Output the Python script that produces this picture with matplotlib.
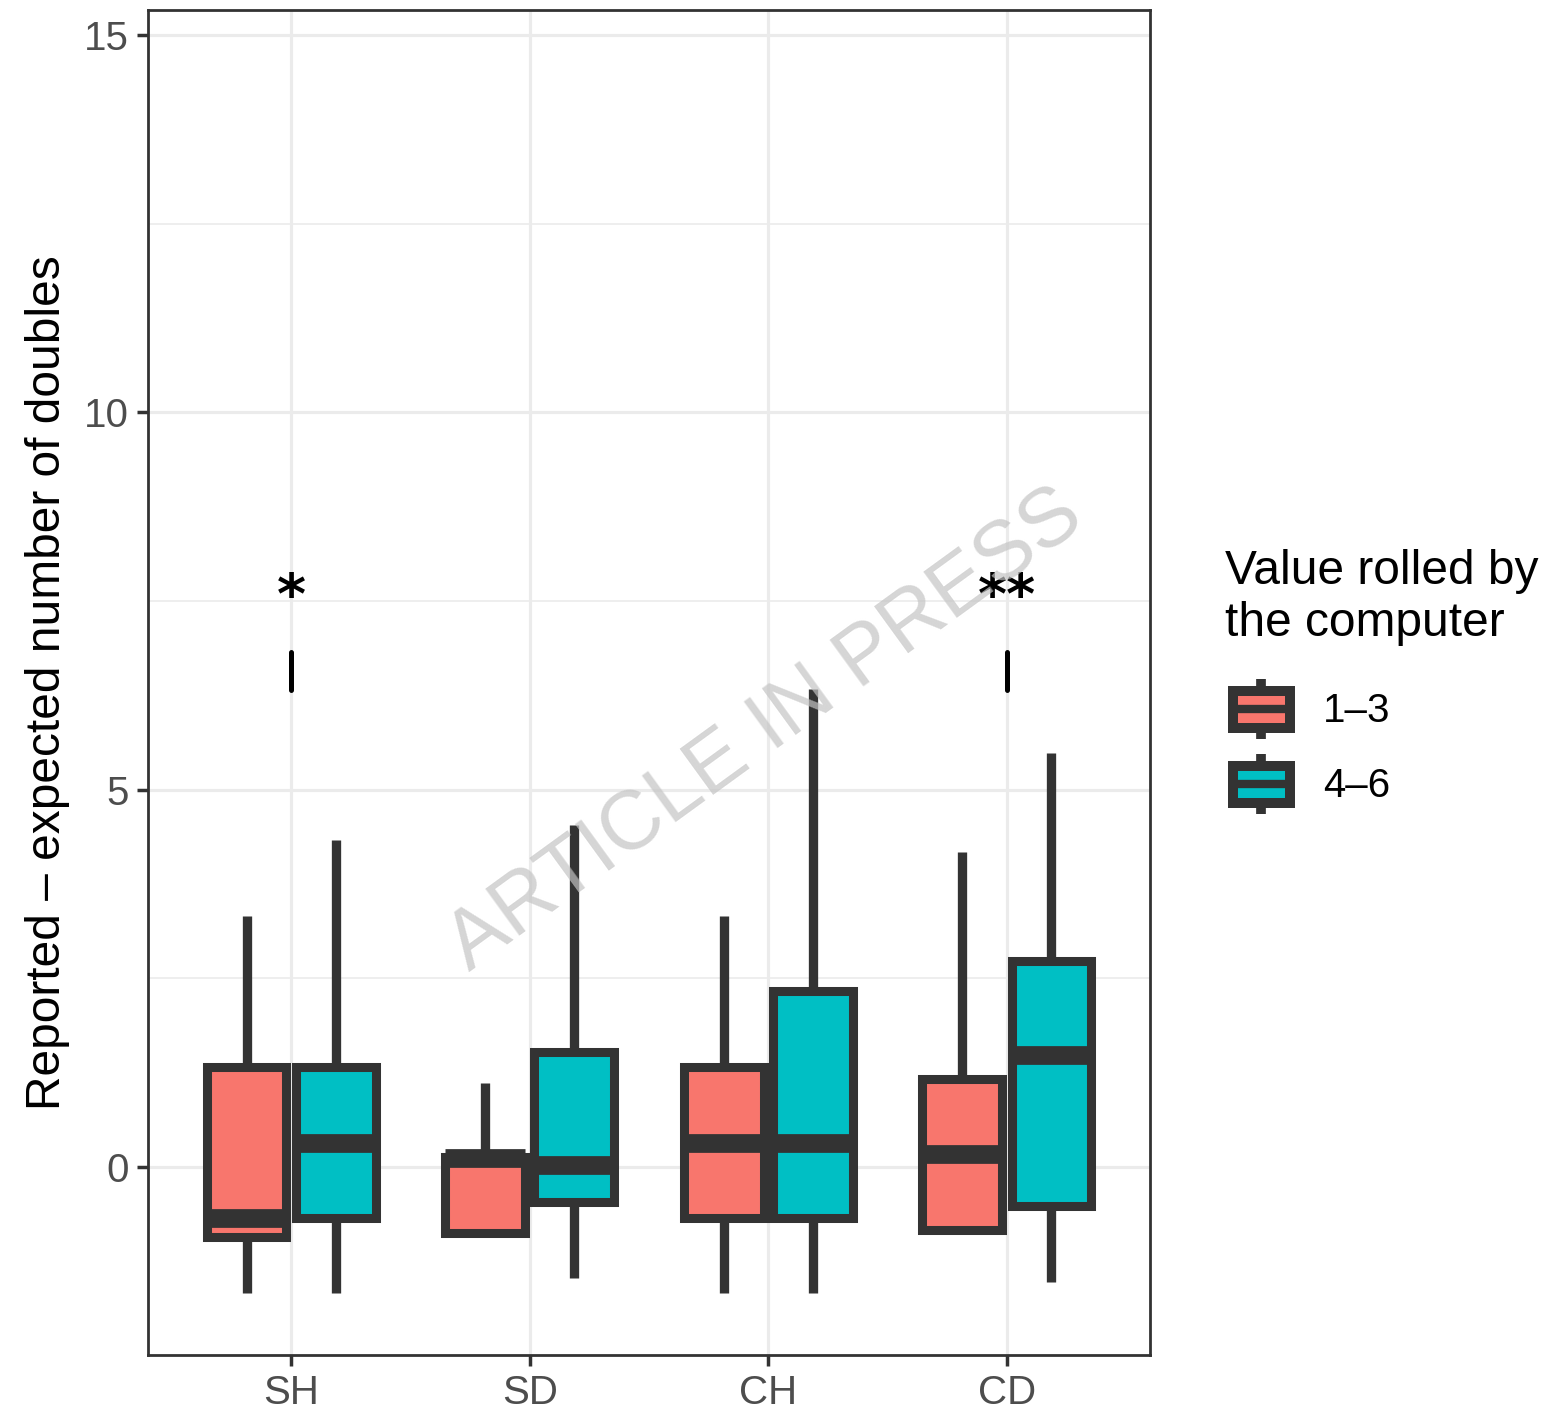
import matplotlib
matplotlib.use("Agg")
import matplotlib.pyplot as plt
from matplotlib.patches import Rectangle
from matplotlib.lines import Line2D
from matplotlib.legend_handler import HandlerBase

plt.rcParams['font.family'] = ['Liberation Sans', 'DejaVu Sans']

# ---- data -------------------------------------------------------------
categories = ["SH", "SD", "CH", "CD"]
groups = ["1–3", "4–6"]
group_colors = ["#F8766D", "#00BFC4"]

# box summaries for value 1–3
low_whishi = [3.33, 1.12, 3.33, 4.18]
low_q3 = [1.33, 0.13, 1.33, 1.17]
low_med = [-0.68, 0.12, 0.32, 0.17]
low_q1 = [-0.93, -0.88, -0.675, -0.83]
low_whislo = [-1.67, -0.88, -1.67, -0.83]

# box summaries for value 4–6
high_whishi = [4.33, 4.53, 6.33, 5.48]
high_q3 = [1.33, 1.53, 2.33, 2.73]
high_med = [0.32, 0.03, 0.32, 1.48]
high_q1 = [-0.675, -0.46, -0.675, -0.52]
high_whislo = [-1.67, -1.47, -1.67, -1.52]

# significance markers
sig_categories = ["SH", "CD"]
sig_labels = ["*", "**"]

yticks = [0, 5, 10, 15]
ylabel = "Reported \u2013 expected number of doubles"
legend_title = "Value rolled by\nthe computer"

# ---- styling ----------------------------------------------------------
EDGE = "#333333"
GRID = "#EBEBEB"
dodge = 0.187
box_w = 0.335

fig = plt.figure(figsize=(15.58, 14.13), dpi=100)
ax = fig.add_axes([148 / 1558, 1 - 1355 / 1413, (1150 - 148) / 1558, (1355 - 10) / 1413])

series = [
    (low_whislo, low_q1, low_med, low_q3, low_whishi),
    (high_whislo, high_q1, high_med, high_q3, high_whishi),
]

for gi, (wlo, q1, med, q3, whi) in enumerate(series):
    stats = []
    for i in range(len(categories)):
        stats.append(dict(whislo=wlo[i], q1=q1[i], med=med[i], q3=q3[i],
                          whishi=whi[i], fliers=[]))
    positions = [i + 1 + (dodge if gi else -dodge) for i in range(len(categories))]
    ax.bxp(stats, positions=positions, widths=box_w, patch_artist=True,
           showcaps=False, showfliers=False, manage_ticks=False,
           boxprops=dict(facecolor=group_colors[gi], edgecolor=EDGE, linewidth=6.5,
                         joinstyle="miter"),
           medianprops=dict(color=EDGE, linewidth=13.5, solid_capstyle="butt"),
           whiskerprops=dict(color=EDGE, linewidth=6.7, solid_capstyle="butt"))

# significance annotations
for cat, lab in zip(sig_categories, sig_labels):
    x = categories.index(cat) + 1
    ax.plot([x, x], [6.32, 6.82], color="black", lw=3.6, solid_capstyle="round", zorder=4)
    ax.text(x, 7.34, lab, ha="center", va="baseline", fontsize=40, fontweight="bold",
            family="DejaVu Sans", color="black", zorder=4)

ax.set_xlim(0.4, 4.6)
ax.set_ylim(-2.49, 15.33)
ax.set_xticks(range(1, len(categories) + 1))
ax.set_xticklabels(categories)
ax.set_yticks(yticks)
ax.set_yticks([2.5, 7.5, 12.5], minor=True)
ax.set_axisbelow(True)
ax.grid(which="major", color=GRID, lw=2.3)
ax.grid(which="minor", axis="y", color=GRID, lw=1.2)
ax.tick_params(which="major", length=8, width=2.5, color=EDGE, labelsize=29,
               labelcolor="#4D4D4D", pad=6)
ax.tick_params(which="minor", length=0)
for s in ax.spines.values():
    s.set_color(EDGE)
    s.set_linewidth(2.0)
ax.set_ylabel(ylabel, fontsize=34.5, color="black", labelpad=10)


# legend keys drawn as miniature boxplots
class BoxKeyHandler(HandlerBase):
    def create_artists(self, legend, orig_handle, xdescent, ydescent, width, height,
                       fontsize, trans):
        fc = orig_handle.get_facecolor()
        inset = 5.8
        x0, y0 = -xdescent + inset, -ydescent
        w = width - inset
        bh = height * 0.62
        by = y0 + (height - bh) / 2
        cx = x0 + w / 2
        cy = y0 + height / 2
        whisk = Line2D([cx, cx], [y0, y0 + height], color=EDGE, lw=7,
                       solid_capstyle="butt", transform=trans)
        rect = Rectangle((x0, by), w, bh, facecolor=fc, edgecolor=EDGE, lw=7.2,
                         joinstyle="miter", transform=trans)
        medl = Line2D([x0, x0 + w], [cy, cy], color=EDGE, lw=6, solid_capstyle="butt",
                      transform=trans)
        return [whisk, rect, medl]


handles = [Rectangle((0, 0), 1, 1, facecolor=c) for c in group_colors]
leg = fig.legend(handles, groups, title=legend_title, loc="upper left",
                 bbox_to_anchor=(1225 / 1558, 1 - 549 / 1413), frameon=False,
                 fontsize=29, title_fontsize=34.5, handlelength=1.61, handleheight=1.915,
                 labelspacing=0.37, handletextpad=0.82, borderpad=0, borderaxespad=0,
                 handler_map={Rectangle: BoxKeyHandler()})
leg._legend_box.align = "left"
leg._legend_box.sep = 24.0

# watermark
fig.text(765 / 1558, 1 - 730 / 1413, "ARTICLE IN PRESS", rotation=36, rotation_mode="anchor",
         ha="center", va="center", fontsize=60, color="#c4c4c4", alpha=0.7, zorder=10)

fig.savefig("out.png", dpi=100)
